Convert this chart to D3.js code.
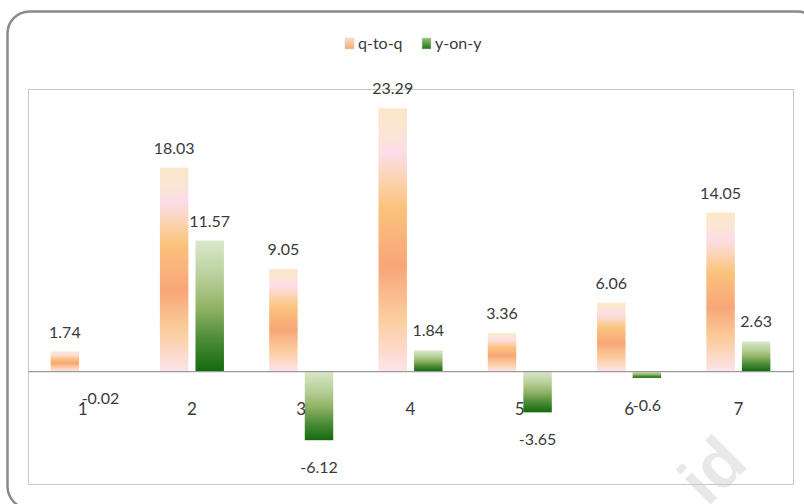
<!DOCTYPE html>
<html>
<head>
<meta charset="utf-8">
<script src="https://cdn.jsdelivr.net/npm/d3@7"></script>
<style>
  html, body { margin: 0; padding: 0; background: #fff; }
  svg { display: block; }
  text { font-family: Lato, "Open Sans", sans-serif; fill: #3a3a3a; }
</style>
</head>
<body>
<svg id="chart" width="804" height="504"></svg>
<script>
// Quarterly growth: quarter-to-quarter vs year-on-year
const categories = ['1', '2', '3', '4', '5', '6', '7'];
const seriesNames = ['q-to-q', 'y-on-y'];
const qToQ = [1.74, 18.03, 9.05, 23.29, 3.36, 6.06, 14.05];
const yOnY = [-0.02, 11.57, -6.12, 1.84, -3.65, -0.6, 2.63];
const yDomain = [-10, 25];

const rows = categories.map((c, i) => ({
  cat: c,
  values: [
    { key: seriesNames[0], v: qToQ[i] },
    { key: seriesNames[1], v: yOnY[i] }
  ]
}));

const svg = d3.select('#chart');
const plot = { left: 28, top: 89, right: 793, bottom: 484 };

// gradients for bars and legend swatches
const defs = svg.append('defs');
function grad(id, stops) {
  const g = defs.append('linearGradient').attr('id', id)
    .attr('x1', 0).attr('y1', 0).attr('x2', 0).attr('y2', 1);
  stops.forEach(([o, c]) => g.append('stop').attr('offset', o).attr('stop-color', c));
}
grad('gOrange', [
  [0, '#fbe7c9'], [0.09, '#fbe5d4'], [0.17, '#fcdce8'], [0.26, '#fbd5b6'],
  [0.38, '#fbc27c'], [0.6, '#f8a678'], [0.8, '#fbcd9d'], [1, '#fde3ea']
]);
grad('gGreen', [
  [0, '#d9e8cb'], [0.3, '#b6cd96'], [0.52, '#8fb263'], [0.76, '#4b8b36'], [1, '#136a0f']
]);
grad('lgOrange', [[0, '#fde0c4'], [1, '#f8a872']]);
grad('lgGreen', [[0, '#93c071'], [1, '#1f741a']]);

// outer frame
svg.append('rect')
  .attr('x', 7.5).attr('y', 11.5).attr('width', 812).attr('height', 497)
  .attr('rx', 22).attr('ry', 22)
  .attr('fill', '#fff').attr('stroke', '#8a8a8a').attr('stroke-width', 2.5);

// watermark
svg.append('text')
  .attr('transform', 'translate(750,465) rotate(-45)')
  .attr('text-anchor', 'end')
  .style('font-family', '"Liberation Sans", Arial, sans-serif')
  .style('font-weight', 'bold')
  .style('font-size', '68px')
  .style('fill', '#e8e8e8')
  .text('.id');

// plot area frame
svg.append('rect')
  .attr('x', plot.left + 0.5).attr('y', plot.top + 0.5)
  .attr('width', plot.right - plot.left).attr('height', plot.bottom - plot.top)
  .attr('fill', 'none').attr('stroke', '#c8c8c8').attr('stroke-width', 1);

const x0 = d3.scaleBand().domain(categories)
  .range([plot.left, plot.right]).paddingInner(0.414).paddingOuter(0.207);
const x1 = d3.scaleBand().domain(seriesNames)
  .range([0, x0.bandwidth()]).paddingInner(0.2);
const y = d3.scaleLinear().domain(yDomain).range([plot.bottom, plot.top]);
const fills = { 'q-to-q': 'url(#gOrange)', 'y-on-y': 'url(#gGreen)' };

const groups = svg.append('g').selectAll('g').data(rows).join('g')
  .attr('transform', d => `translate(${x0(d.cat)},0)`);

groups.selectAll('rect').data(d => d.values).join('rect')
  .attr('x', d => x1(d.key))
  .attr('width', x1.bandwidth())
  .attr('y', d => y(Math.max(0, d.v)))
  .attr('height', d => Math.abs(y(d.v) - y(0)))
  .attr('fill', d => fills[d.key]);

// category axis along zero
const xAxis = svg.append('g')
  .attr('transform', `translate(0,${y(0)})`)
  .call(d3.axisBottom(x0).tickSize(0).tickPadding(32));
xAxis.select('.domain').attr('stroke', '#9a9a9a').attr('stroke-width', 1.2);
xAxis.selectAll('text')
  .style('font-family', 'Lato, "Open Sans", sans-serif')
  .style('font-size', '17px').attr('fill', '#3a3a3a');

// value labels
groups.selectAll('text.val').data(d => d.values).join('text')
  .attr('class', 'val')
  .attr('text-anchor', 'middle')
  .attr('x', d => x1(d.key) + x1.bandwidth() / 2)
  .attr('y', d => d.v >= 0 ? y(d.v) - 14 : y(d.v) + 33)
  .style('font-size', '16px')
  .text(d => String(d.v));

// legend
const legend = svg.append('g').attr('transform', 'translate(345,38)');
const items = [
  { key: 'q-to-q', fill: 'url(#lgOrange)', x: 0 },
  { key: 'y-on-y', fill: 'url(#lgGreen)', x: 77 }
];
items.forEach(it => {
  const g = legend.append('g').attr('transform', `translate(${it.x},0)`);
  g.append('rect').attr('width', 9).attr('height', 11).attr('fill', it.fill)
    .attr('stroke', '#d0d0d0').attr('stroke-width', 0.5);
  g.append('text').attr('x', 13).attr('y', 11)
    .style('font-size', '16px').text(it.key);
});
</script>
</body>
</html>
